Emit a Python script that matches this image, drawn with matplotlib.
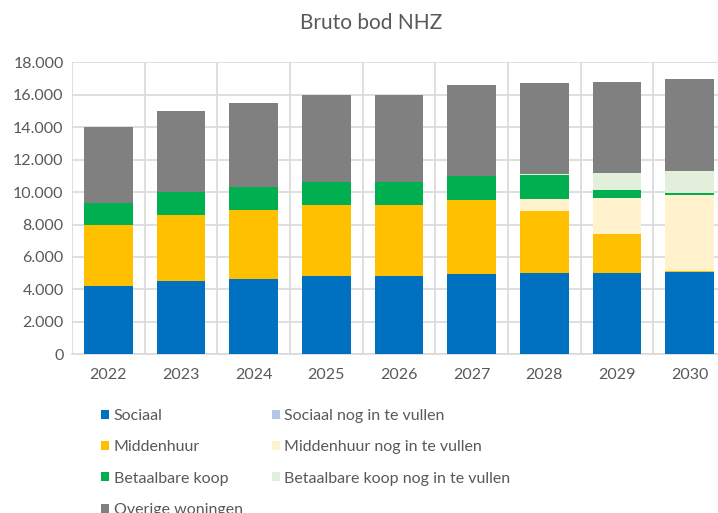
import numpy as np
import matplotlib
matplotlib.use('Agg')
import matplotlib.pyplot as plt
from matplotlib.patches import Patch
from matplotlib.ticker import FuncFormatter, MultipleLocator

# Data, values per segment
years = ['2022', '2023', '2024', '2025', '2026', '2027', '2028', '2029', '2030']
sociaal = [4200, 4500, 4650, 4800, 4800, 4950, 5000, 5000, 5050]
sociaal_nog = [0, 0, 0, 0, 0, 0, 0, 0, 0]
middenhuur = [3800, 4100, 4250, 4400, 4400, 4550, 3850, 2400, 70]
middenhuur_nog = [0, 0, 0, 0, 0, 0, 700, 2250, 4680]
betaalbaar = [1300, 1400, 1400, 1450, 1450, 1500, 1500, 500, 120]
betaalbaar_nog = [0, 0, 0, 0, 0, 0, 50, 1050, 1380]
overige = [4700, 5000, 5200, 5350, 5350, 5600, 5600, 5600, 5700]

series = [
    ('Sociaal', sociaal, '#0070c0'),
    ('Sociaal nog in te vullen', sociaal_nog, '#b4c7e7'),
    ('Middenhuur', middenhuur, '#ffc000'),
    ('Middenhuur nog in te vullen', middenhuur_nog, '#fff2cc'),
    ('Betaalbare koop', betaalbaar, '#00b050'),
    ('Betaalbare koop nog in te vullen', betaalbaar_nog, '#e2efda'),
    ('Overige woningen', overige, '#808080'),
]

text_color = '#595959'
plt.rcParams['font.family'] = ['Lato', 'DejaVu Sans']

fig = plt.figure(figsize=(7.18, 5.13), dpi=100)
ax = fig.add_axes([72 / 718, 1 - 354.3 / 513, 654 / 718, 292 / 513])

x = np.arange(len(years))
bottom = np.zeros(len(years))
handles = {}
for name, vals, col in series:
    ax.bar(x, vals, width=0.67, bottom=bottom, color=col, zorder=3)
    bottom += np.array(vals)
    handles[name] = Patch(facecolor=col, label=name)

ax.set_xlim(-0.5, len(years) - 0.5)
ax.set_ylim(0, 18000)
ax.yaxis.set_major_locator(MultipleLocator(2000))
ax.yaxis.set_major_formatter(FuncFormatter(lambda v, p: f'{int(v):,}'.replace(',', '.')))
ax.set_xticks(x)
ax.set_xticklabels(years)
ax.set_xticks(np.arange(-0.5, len(years), 1), minor=True)

ax.grid(axis='y', which='major', color='#d9d9d9', linewidth=1.2, zorder=0)
ax.grid(axis='x', which='minor', color='#d9d9d9', linewidth=1.2, zorder=0)
ax.grid(axis='x', which='major', visible=False)
for s in ['top', 'right', 'left']:
    ax.spines[s].set_visible(False)
ax.spines['bottom'].set_color('#d9d9d9')
ax.spines['bottom'].set_linewidth(1.2)
ax.tick_params(axis='both', which='both', length=0, colors=text_color, labelsize=11.5)
ax.tick_params(axis='x', pad=10)
ax.tick_params(axis='y', pad=6)

fig.text(371 / 718, 1 - 23 / 513, 'Bruto bod NHZ', ha='center', va='center',
         fontsize=15, color=text_color)

# legend: 4 rows in the first column, last row runs off the bottom like the original
order = ['Sociaal', 'Middenhuur', 'Betaalbare koop', 'Overige woningen',
         'Sociaal nog in te vullen', 'Middenhuur nog in te vullen',
         'Betaalbare koop nog in te vullen']
leg = fig.legend(handles=[handles[n] for n in order], loc='upper left',
                 bbox_to_anchor=(101 / 718, 1 - 409 / 513), ncol=2, frameon=False,
                 fontsize=11.5, handlelength=0.5, handleheight=0.5, handletextpad=0.3,
                 labelspacing=1.08, columnspacing=1.8, borderpad=0, borderaxespad=0)
for t in leg.get_texts():
    t.set_color(text_color)

fig.savefig('out.png', dpi=100)
